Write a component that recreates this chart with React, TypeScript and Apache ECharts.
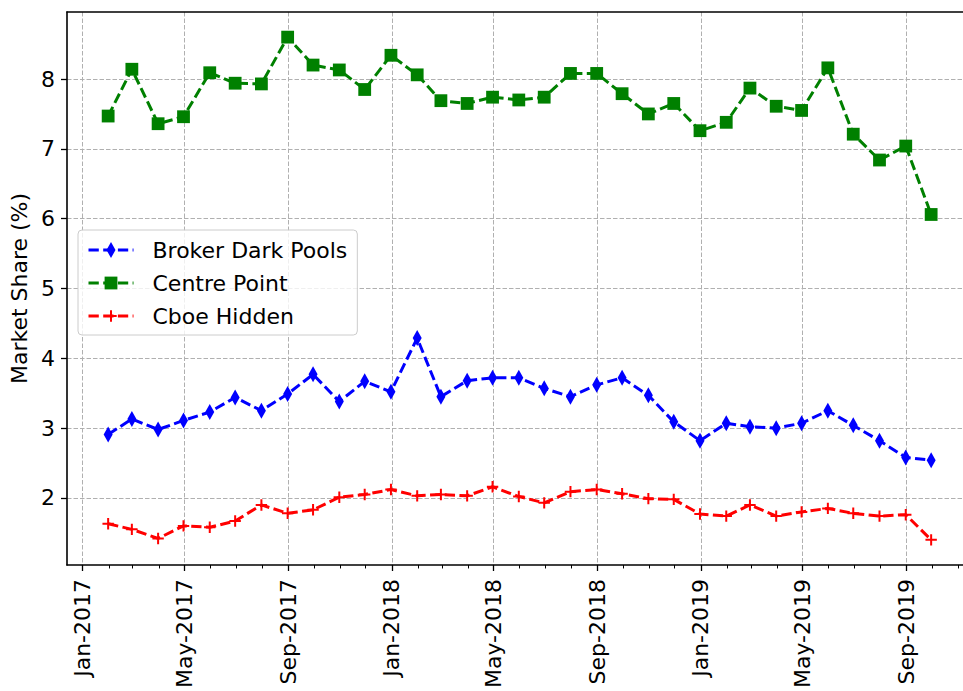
import React, { useEffect, useRef } from 'react';
import * as echarts from 'echarts';

// Month-end observation dates
const dates = [
  '2017-01-31', '2017-02-28', '2017-03-31', '2017-04-30', '2017-05-31', '2017-06-30',
  '2017-07-31', '2017-08-31', '2017-09-30', '2017-10-31', '2017-11-30', '2017-12-31',
  '2018-01-31', '2018-02-28', '2018-03-31', '2018-04-30', '2018-05-31', '2018-06-30',
  '2018-07-31', '2018-08-31', '2018-09-30', '2018-10-31', '2018-11-30', '2018-12-31',
  '2019-01-31', '2019-02-28', '2019-03-31', '2019-04-30', '2019-05-31', '2019-06-30',
  '2019-07-31', '2019-08-31', '2019-09-30',
];

const brokerDarkPools = [
  2.91, 3.13, 2.98, 3.11, 3.23, 3.44, 3.25, 3.49, 3.77, 3.38, 3.67, 3.52,
  4.29, 3.45, 3.68, 3.72, 3.72, 3.57, 3.45, 3.62, 3.72, 3.47, 3.09, 2.82,
  3.07, 3.02, 3.00, 3.07, 3.25, 3.04, 2.82, 2.58, 2.54,
];

const centrePoint = [
  7.47, 8.14, 7.36, 7.46, 8.09, 7.94, 7.93, 8.60, 8.20, 8.13, 7.85, 8.34,
  8.06, 7.69, 7.65, 7.74, 7.70, 7.74, 8.08, 8.08, 7.79, 7.50, 7.65, 7.26,
  7.38, 7.87, 7.61, 7.55, 8.16, 7.21, 6.84, 7.04, 6.06,
];

const cboeHidden = [
  1.63, 1.55, 1.42, 1.60, 1.58, 1.67, 1.90, 1.78, 1.83, 2.01, 2.05, 2.12,
  2.03, 2.05, 2.03, 2.16, 2.02, 1.93, 2.09, 2.12, 2.06, 1.99, 1.98, 1.77,
  1.74, 1.90, 1.74, 1.80, 1.85, 1.78, 1.74, 1.76, 1.40,
];

const seriesNames = ['Broker Dark Pools', 'Centre Point', 'Cboe Hidden'];
const seriesColors = ['#0000ff', '#008000', '#ff0000'];

const xMajorTicks = [
  '2017-01-01', '2017-05-01', '2017-09-01', '2018-01-01', '2018-05-01',
  '2018-09-01', '2019-01-01', '2019-05-01', '2019-09-01',
];
const yTicks = [2, 3, 4, 5, 6, 7, 8];
const monthNames = ['Jan', 'Feb', 'Mar', 'Apr', 'May', 'Jun', 'Jul', 'Aug', 'Sep', 'Oct', 'Nov', 'Dec'];

const FONT = 'DejaVu Sans';

const SYM_DIAMOND = 'path://M0,0 M16,16 M8,0 L12.5,8 L8,16 L3.5,8 Z';
const SYM_SQUARE = 'path://M0,0 M16,16 M1.6,1.6 L14.4,1.6 L14.4,14.4 L1.6,14.4 Z';
const SYM_PLUS =
  'path://M0,0 M16,16 M7,2.3 L9,2.3 L9,7 L13.7,7 L13.7,9 L9,9 L9,13.7 L7,13.7 L7,9 L2.3,9 L2.3,7 L7,7 Z';
const symbols = [SYM_DIAMOND, SYM_SQUARE, SYM_PLUS];

function ts(s: string): number {
  const [y, m, d] = s.split('-').map(Number);
  return new Date(y, m - 1, d).getTime();
}

export default function App() {
  const ref = useRef<HTMLDivElement>(null);

  useEffect(() => {
    if (!ref.current) return;
    const chart = echarts.init(ref.current, undefined, { renderer: 'svg' });

    const xs = dates.map(ts);
    const first = xs[0];
    const last = xs[xs.length - 1];
    const xSpan = last - first;
    const xMin = first - 0.05 * xSpan;
    const xMax = last + 0.05 * xSpan;

    const allVals = [...brokerDarkPools, ...centrePoint, ...cboeHidden];
    const vMin = Math.min(...allVals);
    const vMax = Math.max(...allVals);
    const ySpan = vMax - vMin;
    const yMin = vMin - 0.05 * ySpan;
    const yMax = vMax + 0.05 * ySpan;

    // monthly minor ticks
    const minorTicks: number[] = [];
    const dMin = new Date(xMin);
    let cur = new Date(dMin.getFullYear(), dMin.getMonth() + 1, 1);
    while (cur.getTime() <= xMax) {
      minorTicks.push(cur.getTime());
      cur = new Date(cur.getFullYear(), cur.getMonth() + 1, 1);
    }
    const majorTicks = xMajorTicks.map(ts);

    const valuesList = [brokerDarkPools, centrePoint, cboeHidden];

    const series = seriesNames.map((name, i) => ({
      name,
      type: 'line',
      xAxisIndex: 0,
      yAxisIndex: 0,
      data: valuesList[i].map((v, j) => [xs[j], v]),
      symbol: symbols[i],
      symbolSize: 16,
      showSymbol: true,
      lineStyle: { color: seriesColors[i], width: 3, type: [10.3, 4.4] },
      itemStyle: { color: seriesColors[i] },
      color: seriesColors[i],
      z: 3 + i,
    }));

    const gridLine = { show: true, lineStyle: { color: '#b0b0b0', width: 1, type: [4.5, 2] } };

    chart.setOption({
      animation: false,
      textStyle: { fontFamily: FONT },
      grid: {
        left: 67,
        right: 0.7,
        top: 12,
        bottom: 123.5,
        show: false,
      },
      legend: {
        orient: 'vertical',
        left: 78,
        top: 230,
        padding: [9, 10, 8, 9],
        itemWidth: 45,
        itemHeight: 20,
        itemGap: 11,
        backgroundColor: 'rgba(255,255,255,0.8)',
        borderColor: '#cccccc',
        borderWidth: 1,
        borderRadius: 4,
        lineStyle: { width: 3 },
        textStyle: { fontSize: 22, color: '#000', fontFamily: FONT, padding: [0, 0, 0, 14] },
        data: seriesNames,
      },
      xAxis: [
        {
          type: 'value',
          min: xMin,
          max: xMax,
          position: 'bottom',
          axisLine: { show: true, onZero: false, lineStyle: { color: '#000', width: 1.6 } },
          axisTick: { show: true, length: 6, customValues: majorTicks, lineStyle: { color: '#000', width: 1.3 } },
          axisLabel: {
            show: true,
            customValues: majorTicks,
            rotate: 90,
            margin: 14,
            fontSize: 22,
            color: '#000',
            fontFamily: FONT,
            formatter: (v: number) => {
              const d = new Date(v);
              return `${monthNames[d.getMonth()]}-${d.getFullYear()}`;
            },
          },
          splitLine: gridLine,
        },
        {
          type: 'value',
          min: xMin,
          max: xMax,
          position: 'bottom',
          axisLine: { show: false, onZero: false },
          axisTick: { show: true, length: 3.5, customValues: minorTicks, lineStyle: { color: '#000', width: 1 } },
          axisLabel: { show: false },
          splitLine: { show: false },
        },
        {
          type: 'value',
          min: xMin,
          max: xMax,
          position: 'top',
          axisLine: { show: true, onZero: false, lineStyle: { color: '#000', width: 1.6 } },
          axisTick: { show: false },
          axisLabel: { show: false },
          splitLine: { show: false },
        },
      ],
      yAxis: {
        type: 'value',
        min: yMin,
        max: yMax,
        name: 'Market Share (%)',
        nameLocation: 'middle',
        nameGap: 32,
        nameRotate: 90,
        nameTextStyle: { fontSize: 22, color: '#000', fontFamily: FONT },
        axisLine: { show: true, onZero: false, lineStyle: { color: '#000', width: 1.6 } },
        axisTick: { show: true, length: 6, customValues: yTicks, lineStyle: { color: '#000', width: 1.3 } },
        axisLabel: {
          show: true,
          customValues: yTicks,
          margin: 12,
          fontSize: 22,
          color: '#000',
          fontFamily: FONT,
        },
        splitLine: gridLine,
      },
      series,
    });

    return () => {
      chart.dispose();
    };
  }, []);

  return (
    <div
      ref={ref}
      style={{ position: 'fixed', left: 0, top: 0, width: 973, height: 691, background: '#fff' }}
    />
  );
}
